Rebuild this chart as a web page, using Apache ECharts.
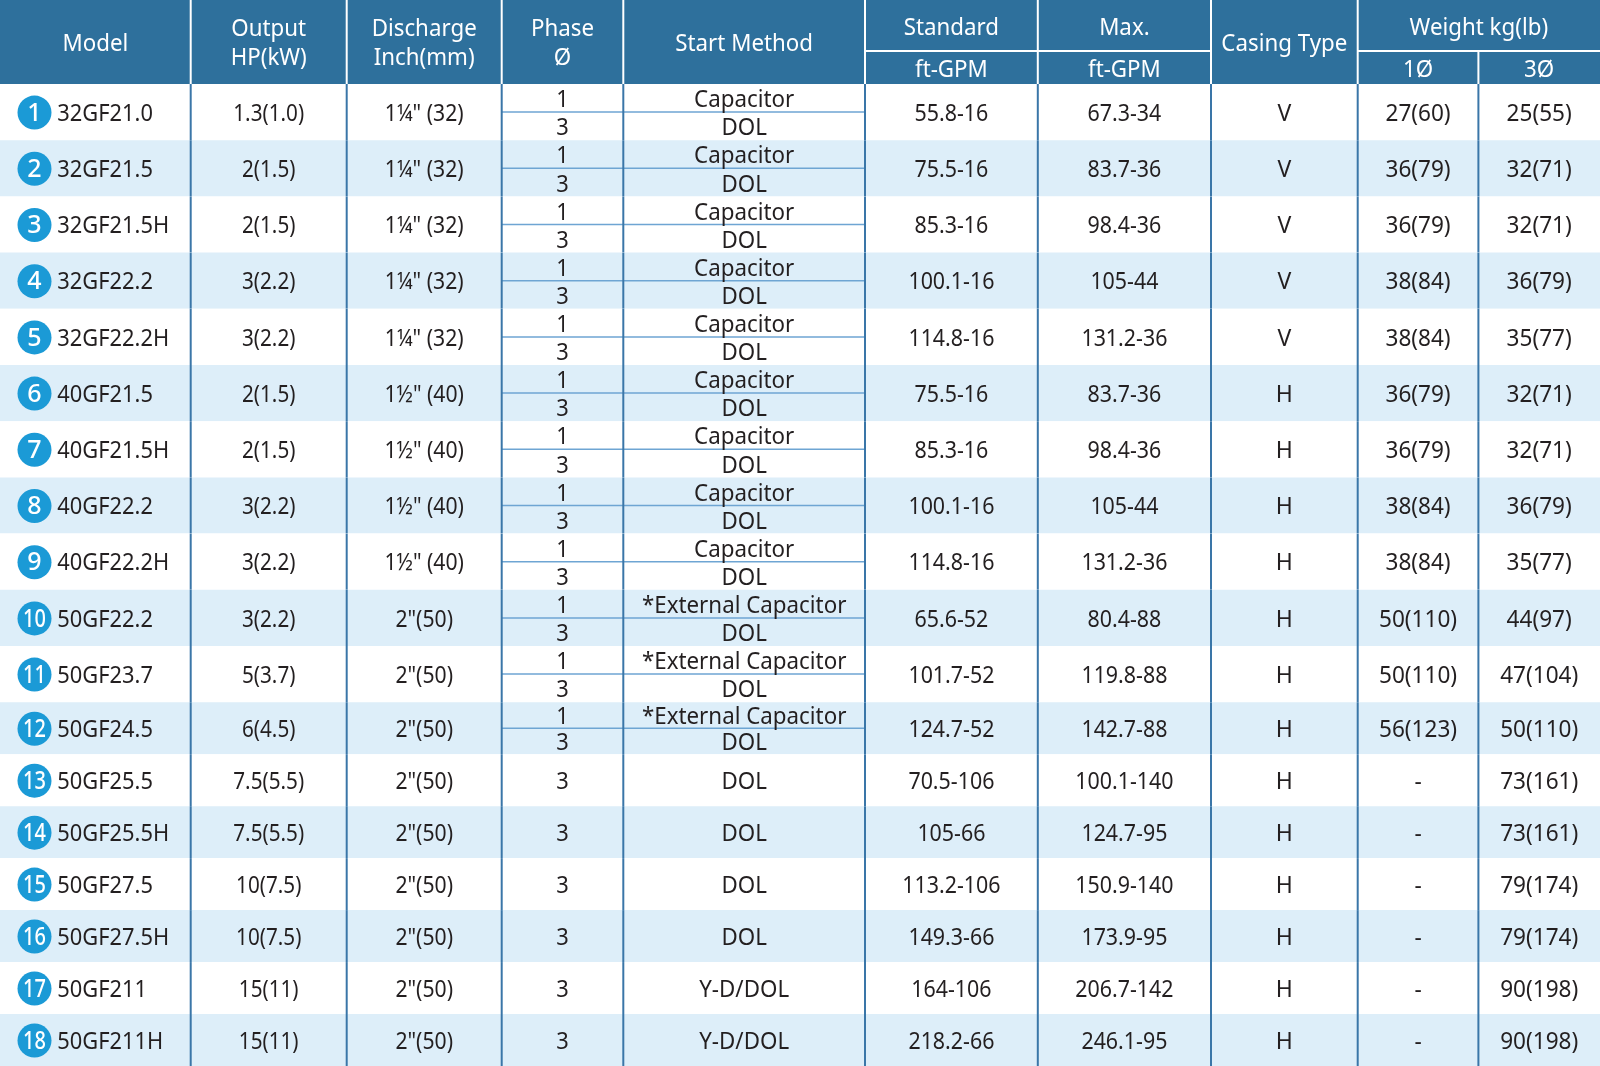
<!DOCTYPE html>
<html>
<head>
<meta charset="utf-8">
<script src="https://cdn.jsdelivr.net/npm/echarts@6/dist/echarts.min.js"></script>
<style>
html,body{margin:0;padding:0;background:#ffffff;}
#chart{width:1600px;height:1066px;}
</style>
</head>
<body>
<div id="chart"></div>
<script>
// ---------------- DATA ----------------
const models = ['32GF21.0','32GF21.5','32GF21.5H','32GF22.2','32GF22.2H','40GF21.5','40GF21.5H','40GF22.2','40GF22.2H','50GF22.2','50GF23.7','50GF24.5','50GF25.5','50GF25.5H','50GF27.5','50GF27.5H','50GF211','50GF211H'];
const outputs = ['1.3(1.0)','2(1.5)','2(1.5)','3(2.2)','3(2.2)','2(1.5)','2(1.5)','3(2.2)','3(2.2)','3(2.2)','5(3.7)','6(4.5)','7.5(5.5)','7.5(5.5)','10(7.5)','10(7.5)','15(11)','15(11)'];
const discharge = ['1¼" (32)','1¼" (32)','1¼" (32)','1¼" (32)','1¼" (32)','1½" (40)','1½" (40)','1½" (40)','1½" (40)','2"(50)','2"(50)','2"(50)','2"(50)','2"(50)','2"(50)','2"(50)','2"(50)','2"(50)'];
const phases = [['1','3'],['1','3'],['1','3'],['1','3'],['1','3'],['1','3'],['1','3'],['1','3'],['1','3'],['1','3'],['1','3'],['1','3'],['3'],['3'],['3'],['3'],['3'],['3']];
const startMethods = [['Capacitor','DOL'],['Capacitor','DOL'],['Capacitor','DOL'],['Capacitor','DOL'],['Capacitor','DOL'],['Capacitor','DOL'],['Capacitor','DOL'],['Capacitor','DOL'],['Capacitor','DOL'],['*External Capacitor','DOL'],['*External Capacitor','DOL'],['*External Capacitor','DOL'],['DOL'],['DOL'],['DOL'],['DOL'],['Y-D/DOL'],['Y-D/DOL']];
const standardPts = ['55.8-16','75.5-16','85.3-16','100.1-16','114.8-16','75.5-16','85.3-16','100.1-16','114.8-16','65.6-52','101.7-52','124.7-52','70.5-106','105-66','113.2-106','149.3-66','164-106','218.2-66'];
const maxPts = ['67.3-34','83.7-36','98.4-36','105-44','131.2-36','83.7-36','98.4-36','105-44','131.2-36','80.4-88','119.8-88','142.7-88','100.1-140','124.7-95','150.9-140','173.9-95','206.7-142','246.1-95'];
const casingTypes = ['V','V','V','V','V','H','H','H','H','H','H','H','H','H','H','H','H','H'];
const weight1 = ['27(60)','36(79)','36(79)','38(84)','38(84)','36(79)','36(79)','38(84)','38(84)','50(110)','50(110)','56(123)','-','-','-','-','-','-'];
const weight3 = ['25(55)','32(71)','32(71)','36(79)','35(77)','32(71)','32(71)','36(79)','35(77)','44(97)','47(104)','50(110)','73(161)','73(161)','79(174)','79(174)','90(198)','90(198)'];
const headerMain = ['Model','Output','Discharge','Phase','Start Method','Standard','Max.','Casing Type','Weight kg(lb)'];
const headerSub = ['','HP(kW)','Inch(mm)','Ø','','ft-GPM','ft-GPM','','1Ø','3Ø'];

// ---------------- LAYOUT / STYLE ----------------
const W = 1600, H = 1066;
const COL_EDGES = [0, 190.7, 346.7, 501.7, 623.3, 865.0, 1037.8, 1211.0, 1357.7, 1478.4, 1600];
const HEADER_H = 84, HEADER_SPLIT = 51;
const ROW_H = models.map((m, i) => i < 11 ? 56.2 : 51.97);
const ROW_TOP = [];
(function(){ let acc = HEADER_H; ROW_H.forEach(h => { ROW_TOP.push(acc); acc += h; }); })();

const HEADER_BG = '#2e709c';
const ROW_ALT = '#ddeef9';
const LINE = '#3a76a8';
const SUBLINE = '#6ea5d3';
const BADGE = '#1b9ad6';
const TXT = '#231f20';
const FONT = '"Noto Sans", "Open Sans", sans-serif';
const FS = 23.5;
const HFS = 23;
const DY = 2;      // visual vertical correction of text
const SUB_DY = 2.5;
// horizontal squeeze per column
const COL_SCALE = [0.93, 0.88, 0.9, 0.93, 0.95, 0.91, 0.91, 0.98, 0.96, 0.96];

function txt(x, y, text, opts) {
  opts = opts || {};
  return {
    type: 'text',
    x: x, y: y,
    scaleX: opts.scaleX || 1,
    style: {
      x: 0, y: 0,
      text: text,
      fill: opts.fill || TXT,
      fontSize: opts.size || FS,
      fontFamily: FONT,
      fontWeight: opts.weight || 'normal',
      align: opts.align || 'center',
      verticalAlign: 'middle'
    }
  };
}

function renderHeader(params, api) {
  const X = v => api.coord([v, 0])[0];
  const Y = v => api.coord([0, v])[1];
  const ch = [];
  ch.push({type: 'rect', shape: {x: X(0), y: Y(0), width: X(W) - X(0), height: Y(HEADER_H) - Y(0)}, style: {fill: HEADER_BG}});
  const cx = c => (X(COL_EDGES[c]) + X(COL_EDGES[c + 1])) / 2;
  const wopt = {fill: '#ffffff', scaleX: 0.97, size: HFS};
  headerMain.forEach((lab, j) => {
    if (j === 8) {
      ch.push(txt((X(COL_EDGES[8]) + X(COL_EDGES[10])) / 2, Y(26 + DY), lab, wopt));
      return;
    }
    const sub = headerSub[j];
    if (!sub) ch.push(txt(cx(j), Y(42 + DY), lab, wopt));
    else if (j === 5 || j === 6) {
      ch.push(txt(cx(j), Y(26 + DY), lab, wopt));
      ch.push(txt(cx(j), Y(68 + DY), sub, wopt));
    } else {
      ch.push(txt(cx(j), Y(28 + 1.5), lab, wopt));
      ch.push(txt(cx(j), Y(57 + 1.5), sub, wopt));
    }
  });
  ch.push(txt(cx(8), Y(68 + DY), headerSub[8], wopt));
  ch.push(txt(cx(9), Y(68 + DY), headerSub[9], wopt));
  const ls = {stroke: '#ffffff', lineWidth: 2};
  for (let k = 1; k <= 8; k++) {
    ch.push({type: 'line', shape: {x1: X(COL_EDGES[k]), y1: Y(0), x2: X(COL_EDGES[k]), y2: Y(HEADER_H)}, style: ls});
  }
  ch.push({type: 'line', shape: {x1: X(COL_EDGES[9]), y1: Y(HEADER_SPLIT), x2: X(COL_EDGES[9]), y2: Y(HEADER_H)}, style: ls});
  ch.push({type: 'line', shape: {x1: X(COL_EDGES[5]), y1: Y(HEADER_SPLIT), x2: X(COL_EDGES[7]), y2: Y(HEADER_SPLIT)}, style: ls});
  ch.push({type: 'line', shape: {x1: X(COL_EDGES[8]), y1: Y(HEADER_SPLIT), x2: X(COL_EDGES[10]), y2: Y(HEADER_SPLIT)}, style: ls});
  return {type: 'group', children: ch};
}

function renderRow(params, api) {
  const i = api.value(0);
  const top = ROW_TOP[i], h = ROW_H[i], bot = top + h;
  const X = v => api.coord([v, top])[0];
  const Y = v => api.coord([0, v])[1];
  const yt = Y(top), yb = Y(bot);
  const ch = [];
  ch.push({type: 'rect', shape: {x: X(0), y: yt, width: X(W) - X(0), height: yb - yt}, style: {fill: i % 2 ? ROW_ALT : '#ffffff'}});
  const cx = c => (X(COL_EDGES[c]) + X(COL_EDGES[c + 1])) / 2;
  const cy = Y(top + h / 2);
  const my = cy + DY;
  if (phases[i].length === 2) {
    ch.push({type: 'line', shape: {x1: X(COL_EDGES[3]), y1: cy, x2: X(COL_EDGES[5]), y2: cy}, style: {stroke: SUBLINE, lineWidth: 1.5}});
  }
  for (let k = 1; k < COL_EDGES.length - 1; k++) {
    ch.push({type: 'line', shape: {x1: X(COL_EDGES[k]), y1: yt, x2: X(COL_EDGES[k]), y2: yb}, style: {stroke: LINE, lineWidth: 2}});
  }
  // badge
  const bx = X(34.5);
  ch.push({type: 'circle', shape: {cx: bx, cy: cy + 0.5, r: 17}, style: {fill: BADGE}});
  const num = String(i + 1);
  ch.push(txt(bx, cy + 1.5, num, {fill: '#ffffff', size: 25, weight: 500, scaleX: num.length > 1 ? 0.8 : 1}));
  ch.push(txt(X(57.3), my, models[i], {align: 'left', scaleX: COL_SCALE[0]}));
  ch.push(txt(cx(1), my, outputs[i], {scaleX: COL_SCALE[1]}));
  ch.push(txt(cx(2), my, discharge[i], {scaleX: COL_SCALE[2]}));
  if (phases[i].length === 2) {
    const y1 = Y(top + h * 0.25) + SUB_DY, y2 = Y(top + h * 0.75) + SUB_DY;
    ch.push(txt(cx(3), y1, phases[i][0], {scaleX: COL_SCALE[3]}));
    ch.push(txt(cx(3), y2, phases[i][1], {scaleX: COL_SCALE[3]}));
    ch.push(txt(cx(4), y1, startMethods[i][0], {scaleX: COL_SCALE[4]}));
    ch.push(txt(cx(4), y2, startMethods[i][1], {scaleX: COL_SCALE[4]}));
  } else {
    ch.push(txt(cx(3), my, phases[i][0], {scaleX: COL_SCALE[3]}));
    ch.push(txt(cx(4), my, startMethods[i][0], {scaleX: COL_SCALE[4]}));
  }
  ch.push(txt(cx(5), my, standardPts[i], {scaleX: COL_SCALE[5]}));
  ch.push(txt(cx(6), my, maxPts[i], {scaleX: COL_SCALE[6]}));
  ch.push(txt(cx(7), my, casingTypes[i], {scaleX: COL_SCALE[7]}));
  ch.push(txt(cx(8), my, weight1[i], {scaleX: COL_SCALE[8]}));
  ch.push(txt(cx(9), my, weight3[i], {scaleX: COL_SCALE[9]}));
  return {type: 'group', children: ch};
}

const chart = echarts.init(document.getElementById('chart'), null, {renderer: 'canvas'});
chart.setOption({
  animation: false,
  backgroundColor: '#ffffff',
  grid: {left: 0, right: 0, top: 0, bottom: 0},
  xAxis: {type: 'value', min: 0, max: W, show: false},
  yAxis: {type: 'value', min: 0, max: H, inverse: true, show: false},
  series: [
    {type: 'custom', renderItem: renderRow, data: models.map((m, i) => [i, i]), silent: true, clip: false},
    {type: 'custom', renderItem: renderHeader, data: [[0, 0]], silent: true, clip: false, z: 3}
  ]
});
</script>
</body>
</html>
